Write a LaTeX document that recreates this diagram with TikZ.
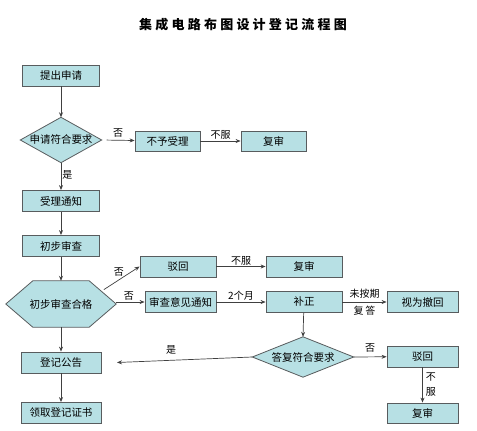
\documentclass[tikz,border=0pt]{standalone}
\usepackage{fontspec}
\setmainfont{Noto Sans CJK SC}
\usetikzlibrary{arrows.meta,calc,backgrounds}
\definecolor{boxfill}{RGB}{183,224,228}
\definecolor{boxline}{RGB}{88,92,94}

\begin{document}
\begin{tikzpicture}[x=1pt,y=-1pt,
    box/.style={draw=boxline,fill=boxfill,line width=0.8pt,minimum width=#1,
        minimum height=21,inner sep=0pt,font=\fontsize{10.5}{12}\selectfont},
    box/.default=77,
    shapebox/.style={minimum width=#1,inner sep=0pt,font=\fontsize{10.5}{12}\selectfont},
    outline/.style={draw=boxline,fill=boxfill,line width=0.8pt},
    link/.style={draw=black!75,line width=0.7pt,-{Stealth[length=5pt,width=4pt]}},
    lbl/.style={font=\fontsize{10}{11}\selectfont,inner sep=1pt}]
    \useasboundingbox (0,0) rectangle (477,431);

    % Title
    \node (title) at (243,25) {\fontsize{13}{15}\selectfont\bfseries\addfontfeature{LetterSpace=25}集成电路布图设计登记流程图};

    % Left column
    \node[box] (apply) at (61,75.5) {提出申请};
    \node[shapebox=81,minimum height=45] (check1) at (61,140) {申请符合要求};
    \node[box] (notice) at (61,201) {受理通知};
    \node[box] (prelim) at (61,246) {初步审查};
    \node[shapebox=110,minimum height=46] (hex) at (61,304) {初步审查合格};
    \node[box=80] (announce) at (61,362.5) {登记公告};
    \node[box=80] (cert) at (61,413) {领取登记证书};

    % First row
    \node[box=65,minimum height=20] (refuse) at (167.5,141) {不予受理};
    \node[box=65,minimum height=20] (review1) at (273.5,141) {复审};

    % Middle rows
    \node[box=76] (reject1) at (178,266.5) {驳回};
    \node[box=76] (review2) at (304,266.5) {复审};
    \node[box=71] (opinion) at (180.5,302) {审查意见通知};
    \node[box=76] (amend) at (304,302) {补正};
    \node[box=71] (withdraw) at (422.5,302) {视为撤回};

    % Right part
    \node[shapebox=101,minimum height=40] (check2) at (303,357) {答复符合要求};
    \node[box=71] (reject2) at (422.5,356.5) {驳回};
    \node[box=71,minimum height=20] (review3) at (422.5,413) {复审};

    % Diamond and hexagon outlines
    \coordinate (hextl) at ($(hex.north west)+(27,0)$);
    \coordinate (hextr) at ($(hex.north east)+(-27,0)$);
    \coordinate (hexbr) at ($(hex.south east)+(-27,0)$);
    \coordinate (hexbl) at ($(hex.south west)+(27,0)$);
    \begin{scope}[on background layer]
        \foreach \d in {check1,check2} {
            \draw[outline] (\d.west) -- (\d.north) -- (\d.east) -- (\d.south) -- cycle;
        }
        \draw[outline] (hex.west) -- (hextl) -- (hextr) -- (hex.east) -- (hexbr) -- (hexbl) -- cycle;
    \end{scope}
    \coordinate (hexedge) at ($(hextr)!0.45!(hex.east)$);
    \coordinate (yesend) at (117,362.5);

    % Arrows
    \draw[link] (apply) -- (check1.north);
    \draw[link,shorten <=5pt] (check1.east) -- node[lbl,above=2pt,pos=0.5] {否} (refuse);
    \draw[link] (refuse) -- node[lbl,above] {不服} (review1);
    \draw[link] (check1.south) -- node[lbl,right,pos=0.45] {是} (notice);
    \draw[link] (notice) -- (prelim);
    \draw[link] (prelim) -- (hex.north);
    \draw[link,shorten <=3pt] (hexedge) -- node[lbl,above left=-1pt,pos=0.6] {否} (reject1.west);
    \draw[link] (reject1) -- node[lbl,above] {不服} (review2);
    \draw[link] (opinion.west -| hex.east) -- node[lbl,above,pos=0.45] {否} (opinion.west);
    \draw[link] (opinion) -- node[lbl,above] {2个月} (amend);
    \draw[link] (amend) -- node[lbl,above=2pt] {未按期} node[lbl,below=3pt] {复\,答} (withdraw);
    \draw[link] (amend) -- (check2.north);
    \draw[link] (check2.east) -- node[lbl,above=3pt] {否} (reject2);
    \draw[link] (reject2) -- node[lbl,right=2pt,align=center] {不\\[4pt]服} (review3);
    \draw[link] (check2.west) -- node[lbl,above=5pt,pos=0.6] {是} (yesend);
    \draw[link] (hex.south) -- (announce);
    \draw[link] (announce) -- (cert);
\end{tikzpicture}
\end{document}
